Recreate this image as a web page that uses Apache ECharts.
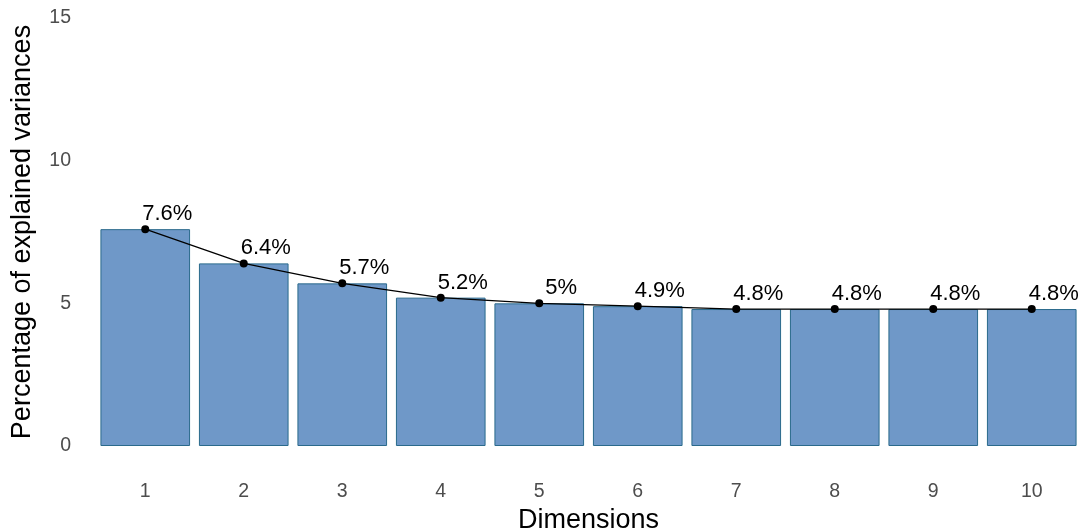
<!DOCTYPE html>
<html>
<head>
<meta charset="utf-8">
<script src="https://cdn.jsdelivr.net/npm/echarts@6/dist/echarts.min.js"></script>
<style>
  html, body { margin: 0; padding: 0; background: #fff; }
  #chart { width: 1087px; height: 531px; }
</style>
</head>
<body>
<div id="chart"></div>
<script>
// Scree plot: explained variance per dimension
const dimensions = ['1', '2', '3', '4', '5', '6', '7', '8', '9', '10'];
const variances = [7.6, 6.4, 5.7, 5.2, 5.0, 4.9, 4.8, 4.8, 4.8, 4.8];
const yTicks = [0, 5, 10, 15];

const font = 'Liberation Sans, Arial, sans-serif';
const chart = echarts.init(document.getElementById('chart'));

chart.setOption({
  animation: false,
  grid: { left: 96, right: 6, top: 18, bottom: 85, outerBoundsMode: 'none' },
  xAxis: {
    type: 'category',
    data: dimensions,
    name: 'Dimensions',
    nameLocation: 'middle',
    nameGap: 58,
    nameTextStyle: { fontFamily: font, fontSize: 27, color: '#000' },
    axisLine: { show: false },
    axisTick: { show: false },
    axisLabel: { fontFamily: font, fontSize: 19.5, color: '#4d4d4d', margin: 36 },
    splitLine: { show: false }
  },
  yAxis: {
    type: 'value',
    min: yTicks[0],
    max: yTicks[yTicks.length - 1],
    interval: 5,
    name: 'Percentage of explained variances',
    nameLocation: 'middle',
    nameGap: 60,
    nameTextStyle: { fontFamily: font, fontSize: 27, color: '#000' },
    axisLine: { show: false },
    axisTick: { show: false },
    axisLabel: { fontFamily: font, fontSize: 19.5, color: '#4d4d4d', margin: 25 },
    splitLine: { show: false }
  },
  series: [
    {
      type: 'bar',
      data: variances,
      barCategoryGap: '9%',
      itemStyle: { color: '#6f98c8', borderColor: '#2a6a8c', borderWidth: 1 }
    },
    {
      type: 'line',
      data: variances,
      symbol: 'circle',
      symbolSize: 8,
      lineStyle: { color: '#000', width: 1.3 },
      itemStyle: { color: '#000' },
      label: {
        show: true,
        position: 'top',
        distance: 0,
        offset: [22, 0],
        fontFamily: font,
        fontSize: 22,
        color: '#000',
        formatter: p => p.value + '%'
      }
    }
  ]
});
</script>
</body>
</html>
